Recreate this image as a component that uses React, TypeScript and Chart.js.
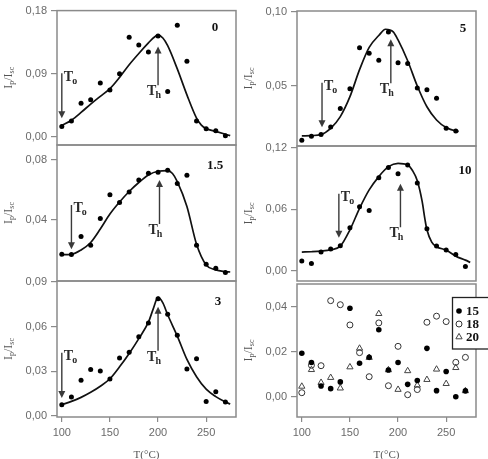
import { useEffect, useRef } from "react";
import { Chart, registerables } from "chart.js";

Chart.register(...registerables);

const W = 488;
const H = 459;

// Measurement temperatures (°C)
const temps = [100, 110, 120, 130, 140, 150, 160, 170, 180, 190, 200, 210, 220, 230, 240, 250, 260, 270];
const temps260 = [100, 110, 120, 130, 140, 150, 160, 170, 180, 190, 200, 210, 220, 230, 240, 250, 260];

// Shared tick values
const xTickValues = [100, 150, 200, 250];

// Panel "0"
const points0 = [0.015, 0.023, 0.048, 0.053, 0.077, 0.067, 0.09, 0.142, 0.131, 0.121, 0.144, 0.065, 0.159, 0.108, 0.023, 0.012, 0.009, 0.002];
const curveT0 = [100, 110, 120, 130, 140, 150, 160, 170, 180, 190, 195, 200, 205, 210, 220, 230, 240, 245, 250, 260, 270, 275];
const curve0 = [0.0165, 0.024, 0.035, 0.047, 0.058, 0.069, 0.085, 0.103, 0.119, 0.134, 0.141, 0.145, 0.141, 0.13, 0.097, 0.06, 0.027, 0.017, 0.012, 0.008, 0.004, 0.002];
const yTicks0 = [0, 0.09, 0.18];
const arrowTo0 = [100, 0.0907, 0.0269];
const arrowTh0 = [200, 0.0737, 0.129];

// Panel "1.5"
const points15 = [0.0171, 0.0169, 0.0289, 0.0231, 0.0409, 0.0569, 0.0516, 0.0587, 0.0667, 0.0711, 0.0718, 0.0731, 0.0644, 0.0698, 0.0231, 0.0104, 0.0078, 0.0049];
const curveT15 = [100, 110, 120, 130, 140, 150, 160, 170, 180, 190, 200, 210, 215, 220, 230, 240, 250, 260, 270, 275];
const curve15 = [0.0169, 0.0171, 0.02, 0.025, 0.034, 0.044, 0.052, 0.059, 0.065, 0.07, 0.0725, 0.0729, 0.071, 0.0656, 0.049, 0.0238, 0.01, 0.0067, 0.0056, 0.0053];
const yTicks15 = [0.04, 0.08];
const arrowTo15 = [110, 0.05, 0.0205];
const arrowTh15 = [201.5, 0.0373, 0.0667];

// Panel "3"
const points3 = [0.0076, 0.0128, 0.024, 0.0313, 0.0302, 0.0248, 0.039, 0.0428, 0.0533, 0.0625, 0.0788, 0.0683, 0.0542, 0.0316, 0.0385, 0.0098, 0.0163, 0.0094];
const curveT3 = [100, 110, 120, 130, 140, 150, 160, 170, 180, 190, 195, 200, 205, 210, 220, 230, 240, 250, 260, 270, 275];
const curve3 = [0.0076, 0.0098, 0.0125, 0.0159, 0.02, 0.025, 0.033, 0.042, 0.052, 0.063, 0.072, 0.0797, 0.076, 0.068, 0.0537, 0.038, 0.0264, 0.018, 0.013, 0.0094, 0.008];
const yTicks3 = [0, 0.03, 0.06, 0.09];
const arrowTo3 = [100, 0.0425, 0.0121];
const arrowTh3 = [200, 0.0439, 0.0734];

// Panel "5"
const points5 = [0.0135, 0.0161, 0.0173, 0.0224, 0.0348, 0.0482, 0.0758, 0.072, 0.0673, 0.0863, 0.0657, 0.0652, 0.0487, 0.0475, 0.0417, 0.0215, 0.0197];
const curveT5 = [100, 110, 120, 130, 140, 150, 160, 170, 180, 187, 195, 200, 210, 220, 230, 240, 250, 260, 263];
const curve5 = [0.0164, 0.0166, 0.0173, 0.0215, 0.0294, 0.0428, 0.061, 0.076, 0.084, 0.0882, 0.0865, 0.081, 0.067, 0.05, 0.036, 0.0271, 0.022, 0.0197, 0.0195];
const yTicks5 = [0.05, 0.1];
const arrowTo5 = [121, 0.0522, 0.0222];
const arrowTh5 = [192.5, 0.0518, 0.0814];

// Panel "10"
const points10 = [0.0095, 0.0072, 0.0183, 0.0212, 0.0245, 0.042, 0.0626, 0.059, 0.091, 0.101, 0.0949, 0.1034, 0.0858, 0.0411, 0.0241, 0.0202, 0.016, 0.0042];
const curveT10 = [100, 110, 120, 130, 140, 150, 160, 170, 180, 190, 200, 210, 215, 220, 225, 228, 230, 235, 240, 250, 260, 270, 275];
const curve10 = [0.0183, 0.0186, 0.0192, 0.0205, 0.024, 0.04, 0.061, 0.079, 0.092, 0.1017, 0.105, 0.1034, 0.098, 0.088, 0.068, 0.05, 0.04, 0.028, 0.0235, 0.0202, 0.0143, 0.0104, 0.0082];
const yTicks10 = [0, 0.06, 0.12];
const arrowTo10 = [138.5, 0.0752, 0.0323];
const arrowTh10 = [202.5, 0.0425, 0.0851];

// Panel with series 15 / 18 / 20
const series15 = [0.0194, 0.0153, 0.0049, 0.0037, 0.0067, 0.0394, 0.015, 0.0176, 0.0299, 0.012, 0.0153, 0.0056, 0.0073, 0.0216, 0.0028, 0.0113, 0.0001, 0.0027];
const series18 = [0.0019, 0.0141, 0.0139, 0.0428, 0.041, 0.032, 0.0197, 0.009, 0.0329, 0.005, 0.0225, 0.001, 0.0033, 0.0332, 0.0359, 0.0335, 0.0154, 0.0176];
const series20 = [0.0047, 0.0121, 0.0064, 0.0086, 0.0039, 0.0133, 0.0216, 0.0175, 0.037, 0.012, 0.0033, 0.0116, 0.0052, 0.0077, 0.0123, 0.0059, 0.013, 0.0027];
const seriesLabels = ["15", "18", "20"];
const yTicksMix = [0, 0.02, 0.04];

const AXIS = "#8a8a8a";
const TICK_TEXT = "#6a6a6a";
const SANS = '"Liberation Sans", Arial, sans-serif';
const SERIF = '"Liberation Serif", "Times New Roman", serif';
const Y_AXIS_W = 45;
const X_AXIS_H = 30;

type Arrow = number[];
interface Panel {
  box: [number, number, number, number];
  yMin: number;
  yMax: number;
  yTicks: number[];
  showX: boolean;
  name?: string;
  nameOffset?: [number, number];
  pointsT?: number[];
  points?: number[];
  curveT?: number[];
  curve?: number[];
  arrowTo?: Arrow;
  arrowTh?: Arrow;
  mixed?: boolean;
}

const panels: Panel[] = [
  { box: [57, 10, 236, 145], yMin: -0.0113, yMax: 0.18, yTicks: yTicks0, showX: false, name: "0", nameOffset: [21, 17], pointsT: temps, points: points0, curveT: curveT0, curve: curve0, arrowTo: arrowTo0, arrowTh: arrowTh0 },
  { box: [57, 145, 236, 281], yMin: -0.0007, yMax: 0.09, yTicks: yTicks15, showX: false, name: "1.5", nameOffset: [21, 21], pointsT: temps, points: points15, curveT: curveT15, curve: curve15, arrowTo: arrowTo15, arrowTh: arrowTh15 },
  { box: [57, 281, 236, 417], yMin: -0.0007, yMax: 0.0907, yTicks: yTicks3, showX: true, name: "3", nameOffset: [18, 21], pointsT: temps, points: points3, curveT: curveT3, curve: curve3, arrowTo: arrowTo3, arrowTh: arrowTh3 },
  { box: [297, 11, 476, 146], yMin: 0.0096, yMax: 0.1005, yTicks: yTicks5, showX: false, name: "5", nameOffset: [13, 18], pointsT: temps260, points: points5, curveT: curveT5, curve: curve5, arrowTo: arrowTo5, arrowTh: arrowTh5 },
  { box: [297, 146, 476, 281], yMin: -0.01, yMax: 0.1219, yTicks: yTicks10, showX: false, name: "10", nameOffset: [11, 25], pointsT: temps, points: points10, curveT: curveT10, curve: curve10, arrowTo: arrowTo10, arrowTh: arrowTh10 },
  { box: [297, 284, 476, 417], yMin: -0.0089, yMax: 0.0502, yTicks: yTicksMix, showX: true, mixed: true },
];

const fmt = (v: number) => v.toFixed(2).replace(".", ",");
const xy = (xs: number[], ys: number[]) => ys.map((y, i) => ({ x: xs[i], y }));

function drawArrow(ctx: CanvasRenderingContext2D, x: number, tail: number, tip: number) {
  const dir = tip > tail ? 1 : -1;
  ctx.strokeStyle = "#3a3a3a";
  ctx.fillStyle = "#3a3a3a";
  ctx.lineWidth = 1.4;
  ctx.beginPath();
  ctx.moveTo(x, tail);
  ctx.lineTo(x, tip - dir * 5);
  ctx.stroke();
  ctx.beginPath();
  ctx.moveTo(x, tip);
  ctx.lineTo(x - 3.5, tip - dir * 7);
  ctx.lineTo(x + 3.5, tip - dir * 7);
  ctx.closePath();
  ctx.fill();
}

function drawSubText(ctx: CanvasRenderingContext2D, x: number, baseline: number, main: string, sub: string) {
  ctx.fillStyle = "#2a2a2a";
  ctx.textAlign = "left";
  ctx.textBaseline = "alphabetic";
  ctx.font = `bold 14px ${SERIF}`;
  ctx.fillText(main, x, baseline);
  const w = ctx.measureText(main).width;
  ctx.font = `bold 10px ${SERIF}`;
  ctx.fillText(sub, x + w - 1, baseline + 3);
}

function drawYTitle(ctx: CanvasRenderingContext2D, cx: number, cy: number) {
  const parts: [string, boolean][] = [["I", false], ["p", true], ["/", false], ["I", false], ["sc", true]];
  ctx.save();
  ctx.translate(cx, cy);
  ctx.rotate(-Math.PI / 2);
  ctx.fillStyle = "#555";
  ctx.textAlign = "left";
  ctx.textBaseline = "alphabetic";
  let total = 0;
  for (const [t, sub] of parts) {
    ctx.font = sub ? `8px ${SERIF}` : `12px ${SERIF}`;
    total += ctx.measureText(t).width;
  }
  let x = -total / 2;
  for (const [t, sub] of parts) {
    ctx.font = sub ? `8px ${SERIF}` : `12px ${SERIF}`;
    ctx.fillText(t, x, sub ? 6 : 4);
    x += ctx.measureText(t).width;
  }
  ctx.restore();
}

function marker(ctx: CanvasRenderingContext2D, kind: number, x: number, y: number) {
  ctx.beginPath();
  if (kind === 0) {
    ctx.arc(x, y, 2.8, 0, Math.PI * 2);
    ctx.fillStyle = "#000";
    ctx.fill();
  } else if (kind === 1) {
    ctx.arc(x, y, 3, 0, Math.PI * 2);
    ctx.strokeStyle = "#333";
    ctx.lineWidth = 1;
    ctx.stroke();
  } else {
    const r = 3.6;
    ctx.moveTo(x, y - r);
    ctx.lineTo(x + r * 0.866, y + r * 0.5);
    ctx.lineTo(x - r * 0.866, y + r * 0.5);
    ctx.closePath();
    ctx.strokeStyle = "#444";
    ctx.lineWidth = 1;
    ctx.stroke();
  }
}

function makeDecor(p: Panel) {
  return {
    id: "decor",
    afterDraw(chart: Chart) {
      const ctx = chart.ctx;
      const { left, top, right, bottom } = chart.chartArea;
      const xs = chart.scales.x;
      const ys = chart.scales.y;
      ctx.save();
      // frame
      ctx.strokeStyle = AXIS;
      ctx.lineWidth = 1.5;
      ctx.strokeRect(left, top, right - left, bottom - top);

      // T_o / T_h markers
      if (p.arrowTo) {
        const ax = xs.getPixelForValue(p.arrowTo[0]);
        const tail = ys.getPixelForValue(p.arrowTo[1]);
        drawArrow(ctx, ax, tail, ys.getPixelForValue(p.arrowTo[2]));
        drawSubText(ctx, ax + 2, tail + 7.5, "T", "o");
      }
      if (p.arrowTh) {
        const ax = xs.getPixelForValue(p.arrowTh[0]);
        const tail = ys.getPixelForValue(p.arrowTh[1]);
        drawArrow(ctx, ax, tail, ys.getPixelForValue(p.arrowTh[2]));
        drawSubText(ctx, ax - 11, tail + 10, "T", "h");
      }

      // panel name
      if (p.name && p.nameOffset) {
        ctx.fillStyle = "#111";
        ctx.font = `bold 13px ${SERIF}`;
        ctx.textAlign = "center";
        ctx.textBaseline = "middle";
        ctx.fillText(p.name, right - p.nameOffset[0], top + p.nameOffset[1]);
      }

      // y title
      drawYTitle(ctx, left - 49, (top + bottom) / 2);

      // x title
      if (p.showX) {
        ctx.fillStyle = "#555";
        ctx.font = `11px ${SERIF}`;
        ctx.textAlign = "center";
        ctx.textBaseline = "alphabetic";
        ctx.fillText("T(°C)", (left + right) / 2, 458);
      }

      // legend
      if (p.mixed) {
        const lx = right - 24;
        const ly = top + 13;
        ctx.fillStyle = "#fff";
        ctx.fillRect(lx, ly, 44, 52);
        ctx.strokeStyle = "#222";
        ctx.lineWidth = 1.3;
        ctx.strokeRect(lx + 0.5, ly + 0.5, 44, 51.5);
        seriesLabels.forEach((lab, i) => {
          const ry = ly + 14 + i * 13;
          marker(ctx, i, lx + 7, ry);
          ctx.fillStyle = "#111";
          ctx.font = `bold 13px ${SERIF}`;
          ctx.textAlign = "left";
          ctx.textBaseline = "middle";
          ctx.fillText(lab, lx + 14, ry + 0.5);
        });
      }
      ctx.restore();
    },
  };
}

function buildConfig(p: Panel): any {
  const [l, t, r, b] = p.box;
  const datasets: any[] = [];
  if (p.mixed) {
    datasets.push(
      { label: seriesLabels[0], data: xy(temps, series15), pointStyle: "circle", pointRadius: 2.8, backgroundColor: "#000", borderColor: "#000", borderWidth: 0 },
      { label: seriesLabels[1], data: xy(temps, series18), pointStyle: "circle", pointRadius: 3, backgroundColor: "rgba(0,0,0,0)", borderColor: "#333", borderWidth: 1 },
      { label: seriesLabels[2], data: xy(temps, series20), pointStyle: "triangle", pointRadius: 3.6, backgroundColor: "rgba(0,0,0,0)", borderColor: "#444", borderWidth: 1 }
    );
  } else {
    datasets.push(
      { data: xy(p.pointsT!, p.points!), pointRadius: 2.5, backgroundColor: "#000", borderColor: "#000", borderWidth: 0 },
      { data: xy(p.curveT!, p.curve!), showLine: true, pointRadius: 0, borderColor: "#111", borderWidth: 1.7, cubicInterpolationMode: "monotone", fill: false }
    );
  }
  return {
    type: "scatter",
    data: { datasets },
    options: {
      responsive: false,
      animation: false,
      devicePixelRatio: 1,
      events: [],
      layout: {
        padding: { left: l - Y_AXIS_W, top: t, right: W - r, bottom: H - b - (p.showX ? X_AXIS_H : 0) },
      },
      plugins: { legend: { display: false }, tooltip: { enabled: false } },
      scales: {
        x: {
          type: "linear",
          min: 95,
          max: 281,
          display: p.showX,
          afterBuildTicks: (s: any) => {
            s.ticks = xTickValues.map((value) => ({ value }));
          },
          afterFit: (s: any) => {
            s.height = p.showX ? X_AXIS_H : 0;
          },
          grid: { drawOnChartArea: false, drawTicks: true, tickLength: 5, color: AXIS, lineWidth: 1.2 },
          border: { display: false },
          ticks: { font: { family: SANS, size: 11 }, color: TICK_TEXT, padding: 4, maxRotation: 0, autoSkip: false },
        },
        y: {
          type: "linear",
          min: p.yMin,
          max: p.yMax,
          afterBuildTicks: (s: any) => {
            s.ticks = p.yTicks.map((value) => ({ value }));
          },
          afterFit: (s: any) => {
            s.width = Y_AXIS_W;
          },
          grid: { drawOnChartArea: false, drawTicks: true, tickLength: 6, color: AXIS, lineWidth: 1.2 },
          border: { display: false },
          ticks: {
            font: { family: SANS, size: 11 },
            color: TICK_TEXT,
            padding: 4,
            autoSkip: false,
            callback: (v: any) => fmt(Number(v)),
          },
        },
      },
    },
    plugins: [makeDecor(p)],
  };
}

export default function App() {
  const refs = useRef<(HTMLCanvasElement | null)[]>([]);

  useEffect(() => {
    const charts = panels.map((p, i) => new Chart(refs.current[i] as HTMLCanvasElement, buildConfig(p)));
    return () => charts.forEach((c) => c.destroy());
  }, []);

  return (
    <div style={{ position: "absolute", left: 0, top: 0, width: W, height: H, background: "#fff", overflow: "hidden" }}>
      {panels.map((_, i) => (
        <canvas
          key={i}
          ref={(el) => {
            refs.current[i] = el;
          }}
          width={W}
          height={H}
          style={{ position: "absolute", left: 0, top: 0, width: W, height: H }}
        />
      ))}
    </div>
  );
}
